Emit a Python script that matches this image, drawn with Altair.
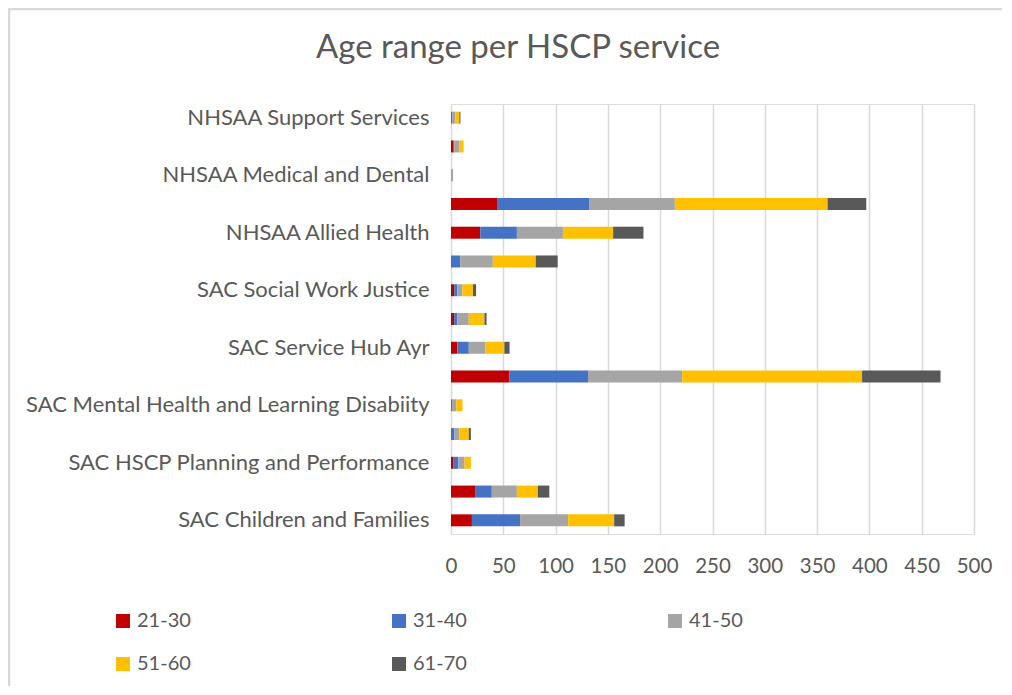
import altair as alt
import pandas as pd

# Categories, top to bottom
services = [
    "NHSAA Support Services",
    "NHSAA Nursing and Midwifery (Community)",
    "NHSAA Medical and Dental",
    "NHSAA Nursing and Midwifery",
    "NHSAA Allied Health",
    "NHSAA Administrative Services",
    "SAC Social Work Justice",
    "SAC Service Hub Troon",
    "SAC Service Hub Ayr",
    "SAC Health and Community Care",
    "SAC Mental Health and Learning Disabiity",
    "SAC Learning Disability",
    "SAC HSCP Planning and Performance",
    "SAC Criminal Justice",
    "SAC Children and Families",
]
shown_labels = [
    "NHSAA Support Services",
    "NHSAA Medical and Dental",
    "NHSAA Allied Health",
    "SAC Social Work Justice",
    "SAC Service Hub Ayr",
    "SAC Mental Health and Learning Disabiity",
    "SAC HSCP Planning and Performance",
    "SAC Children and Families",
]
age_groups = ["21-30", "31-40", "41-50", "51-60", "61-70"]
title_text = "Age range per HSCP service"

v_21_30 = [0, 2, 0, 44, 28, 0, 3, 3, 6, 56, 0, 0, 2, 23, 20]
v_31_40 = [1, 1, 0, 88, 35, 9, 3, 3, 11, 75, 1, 3, 5, 16, 46]
v_41_50 = [3, 5, 2, 82, 44, 31, 5, 11, 16, 90, 4, 5, 6, 24, 46]
v_51_60 = [4, 4, 0, 146, 48, 41, 10, 15, 18, 172, 6, 9, 6, 20, 44]
v_61_70 = [1, 0, 0, 37, 29, 21, 3, 2, 5, 75, 0, 2, 0, 11, 10]

colors = ["#C00000", "#4472C4", "#A5A5A5", "#FFC000", "#595959"]

rows = []
for series, vals in zip(age_groups, [v_21_30, v_31_40, v_41_50, v_51_60, v_61_70]):
    for s, v in zip(services, vals):
        rows.append({"service": s, "age": series, "value": v,
                     "order": age_groups.index(series)})
df = pd.DataFrame(rows)

FONT = "Lato"
TXT = "#595959"

label_expr = "indexof(" + str(shown_labels) + ", datum.value) >= 0 ? datum.value : ''"

bars = alt.Chart(df).mark_bar(size=12).encode(
    y=alt.Y("service:N", sort=services, title=None,
            scale=alt.Scale(paddingInner=0.55, paddingOuter=0.25),
            axis=alt.Axis(labelExpr=label_expr, labelFont=FONT, labelFontSize=22,
                          labelColor=TXT, ticks=False, domain=False,
                          labelPadding=22, labelLimit=500)),
    x=alt.X("value:Q", stack="zero", title=None,
            scale=alt.Scale(domain=[0, 500], nice=False),
            axis=alt.Axis(values=list(range(0, 501, 50)), labelFont=FONT,
                          labelFontSize=20.5, labelColor=TXT, ticks=False,
                          domain=False, grid=True, gridColor="#D9D9D9",
                          gridWidth=1.5, labelPadding=22, labelFlush=False)),
    color=alt.Color("age:N", sort=age_groups,
                    scale=alt.Scale(domain=age_groups, range=colors),
                    legend=alt.Legend(title=None, orient="none", legendX=-338,
                                      legendY=507, columns=3, columnPadding=198,
                                      direction="horizontal",
                                      rowPadding=23, symbolType="square",
                                      symbolSize=196, labelFont=FONT,
                                      labelFontSize=20, labelColor=TXT,
                                      symbolStrokeWidth=0, labelLimit=200)),
    order=alt.Order("order:Q"),
)

deco = alt.Data(values=[{"t": title_text}])

border = alt.Chart(deco).mark_rect(
    fill=None, stroke="#D9D9D9", strokeWidth=2.5
).encode(
    x=alt.value(-442), x2=alt.value(620),
    y=alt.value(-95), y2=alt.value(660),
)

title = alt.Chart(deco).mark_text(
    font=FONT, fontSize=33, color=TXT, align="center", baseline="alphabetic"
).encode(
    x=alt.value(67), y=alt.value(-46), text="t:N",
)

chart = alt.layer(border, title, bars).properties(
    width=523, height=430,
    padding={"left": 443, "top": 96, "right": 28, "bottom": 152},
    autosize=alt.AutoSizeParams(type="none"),
).configure_view(stroke=None).configure(background="white")

chart.save("out.html", embed_options={"renderer": "svg", "actions": False})
